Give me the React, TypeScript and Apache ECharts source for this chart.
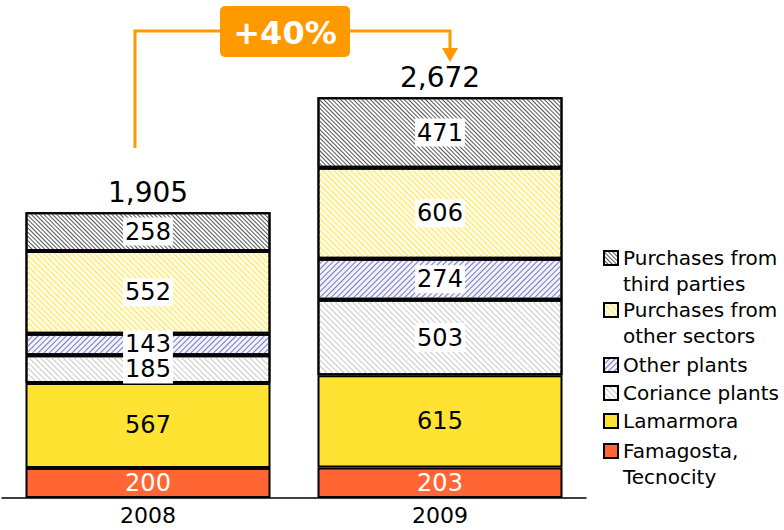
import React, { useEffect, useRef } from 'react';
import * as echarts from 'echarts';

const categories = ['2008', '2009'];
const famagosta = [200, 203];
const lamarmora = [567, 615];
const coriance = [185, 503];
const otherPlants = [143, 274];
const otherSectors = [552, 606];
const thirdParties = [258, 471];
const totals = [1905, 2672];
const growthLabel = '+40%';

const legendOrder = [
  'Purchases from third parties',
  'Purchases from other sectors',
  'Other plants',
  'Coriance plants',
  'Lamarmora',
  'Famagosta, Tecnocity',
];
const legendText: Record<string, string> = {
  'Purchases from third parties': 'Purchases from\nthird parties',
  'Purchases from other sectors': 'Purchases from\nother sectors',
  'Other plants': 'Other plants',
  'Coriance plants': 'Coriance plants',
  'Lamarmora': 'Lamarmora',
  'Famagosta, Tecnocity': 'Famagosta,\nTecnocity',
};

// layout: vertical centre of the first text line of each legend entry
const legendLineY = [258, 310, 365, 393, 421, 451];

const FONT = 'DejaVu Sans';

export default function App() {
  const ref = useRef<HTMLDivElement>(null);
  useEffect(() => {
    const chart = echarts.init(ref.current!, null, { renderer: 'svg' });
    const border = { borderColor: '#000', borderWidth: 2 };
    const boxLabel = {
      show: true,
      position: 'inside',
      fontFamily: FONT,
      fontSize: 24,
      lineHeight: 24,
      color: '#000',
      backgroundColor: '#fff',
      padding: [2, 2],
    };
    const plainLabel = (color: string) => ({
      show: true,
      position: 'inside',
      fontFamily: FONT,
      fontSize: 24,
      color,
    });
    const hatch = (color: string, gap: number, rot: number) => ({
      symbol: 'rect',
      symbolSize: 1,
      dashArrayX: [1, 0],
      dashArrayY: [1, gap],
      rotation: rot,
      color,
    });
    const base = { type: 'bar', stack: 'total', barWidth: 245 };
    const D = Math.PI / 4;
    const U = -Math.PI / 4;

    const legends = legendOrder.map((n, i) => {
      const twoLine = legendText[n].indexOf('\n') >= 0;
      return {
        orient: 'vertical',
        left: 603,
        top: legendLineY[i] - 13,
        padding: 0,
        itemWidth: 14,
        itemHeight: twoLine ? 40 : 14,
        icon: twoLine ? 'path://M0,0h14v14h-14zM0,40' : 'rect',
        textStyle: { fontFamily: FONT, fontSize: 20, lineHeight: 26, color: '#000' },
        formatter: (name: string) => legendText[name] || name,
        data: [n],
      };
    });

    const option: any = {
      animation: false,
      grid: { left: 2, width: 584, top: 48, bottom: 32 },
      xAxis: {
        type: 'category',
        data: categories,
        axisLine: { lineStyle: { color: '#000', width: 1.5 } },
        axisTick: { show: false },
        axisLabel: { fontFamily: FONT, fontSize: 22, color: '#000', margin: 6 },
      },
      yAxis: { type: 'value', min: 0, max: 3000, show: false },
      legend: legends,
      series: [
        {
          ...base,
          name: 'Famagosta, Tecnocity',
          data: famagosta,
          itemStyle: { color: '#FF6633', ...border },
          label: plainLabel('#fff'),
        },
        {
          ...base,
          name: 'Lamarmora',
          data: lamarmora,
          itemStyle: { color: '#FFE333', ...border },
          label: plainLabel('#000'),
        },
        {
          ...base,
          name: 'Coriance plants',
          z: 3,
          data: coriance,
          itemStyle: { color: '#FFFFFF', ...border, decal: hatch('#C8C8C8', 3, D) },
          label: { ...boxLabel, padding: [3, 2, 2, 2] },
        },
        {
          ...base,
          name: 'Other plants',
          data: otherPlants,
          itemStyle: { color: '#F3F3FC', ...border, decal: hatch('#7777C4', 3, U) },
          label: boxLabel,
        },
        {
          ...base,
          name: 'Purchases from other sectors',
          data: otherSectors,
          itemStyle: { color: '#FFFDE8', ...border, decal: hatch('#FFE455', 3, D) },
          label: boxLabel,
        },
        {
          ...base,
          name: 'Purchases from third parties',
          data: thirdParties,
          itemStyle: { color: '#FFFFFF', ...border, decal: hatch('#555555', 2, D) },
          label: boxLabel,
        },
        {
          ...base,
          name: 'total',
          data: totals.map(() => 0),
          silent: true,
          z: 5,
          itemStyle: { color: 'rgba(0,0,0,0)', borderWidth: 0 },
          label: {
            show: true,
            position: 'top',
            distance: 6,
            fontFamily: FONT,
            fontSize: 28,
            color: '#000',
            formatter: (p: any) => totals[p.dataIndex].toLocaleString('en-US'),
          },
        },
      ],
      graphic: [
        {
          type: 'polyline',
          shape: { points: [[135, 148], [135, 31], [450, 31], [450, 50]] },
          style: { stroke: '#FF9900', lineWidth: 3, fill: 'none' },
          z: 10,
        },
        {
          type: 'polygon',
          shape: { points: [[442, 48], [458, 48], [450, 62]] },
          style: { fill: '#FF9900' },
          z: 10,
        },
        {
          type: 'rect',
          shape: { x: 220, y: 6, width: 130, height: 51, r: 5 },
          style: { fill: '#FF9900' },
          z: 11,
        },
        {
          type: 'text',
          x: 285,
          y: 33,
          style: {
            text: growthLabel,
            align: 'center',
            verticalAlign: 'middle',
            font: `bold 32px "${FONT}"`,
            fill: '#fff',
          },
          z: 12,
        },
      ],
    };
    chart.setOption(option);
    return () => chart.dispose();
  }, []);
  return (
    <div
      ref={ref}
      style={{ position: 'absolute', left: 0, top: 0, width: 784, height: 530, background: '#fff' }}
    />
  );
}
